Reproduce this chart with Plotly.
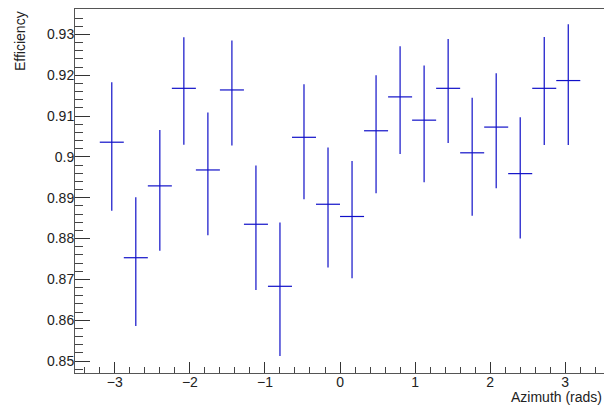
import plotly.graph_objects as go

# Data
azimuth = [-3.04, -2.72, -2.40, -2.08, -1.76, -1.44, -1.12, -0.80, -0.48, -0.16,
           0.16, 0.48, 0.80, 1.12, 1.44, 1.76, 2.08, 2.40, 2.72, 3.04]
half_width = [0.16] * 20
efficiency = [0.9036, 0.8753, 0.8929, 0.9168, 0.8968, 0.9164, 0.8835, 0.8683, 0.9048, 0.8884,
              0.8854, 0.9064, 0.9147, 0.9090, 0.9168, 0.9010, 0.9073, 0.8959, 0.9168, 0.9187]
upper_edge = [0.9183, 0.8901, 0.9066, 0.9293, 0.9109, 0.9285, 0.8979, 0.8839, 0.9178, 0.9023,
              0.8990, 0.9200, 0.9271, 0.9224, 0.9289, 0.9145, 0.9205, 0.9097, 0.9294, 0.9325]
lower_edge = [0.8868, 0.8586, 0.8770, 0.9030, 0.8808, 0.9028, 0.8674, 0.8512, 0.8896, 0.8729,
              0.8703, 0.8911, 0.9007, 0.8938, 0.9034, 0.8856, 0.8923, 0.8800, 0.9029, 0.9029]

err_plus = [u - e for u, e in zip(upper_edge, efficiency)]
err_minus = [e - l for e, l in zip(efficiency, lower_edge)]

blue = "#1010c8"
font_family = "Liberation Sans, Arial, Helvetica, sans-serif"

fig = go.Figure()
fig.add_trace(go.Scatter(
    x=azimuth, y=efficiency, mode="markers",
    marker=dict(size=1, opacity=0, color=blue),
    error_y=dict(type="data", symmetric=False, array=err_plus, arrayminus=err_minus,
                 color=blue, thickness=1.2, width=0),
    error_x=dict(type="data", array=half_width, color=blue, thickness=1.2, width=0),
    showlegend=False, hoverinfo="skip",
))

fig.update_layout(
    width=604, height=406,
    margin=dict(l=75, r=0, t=9, b=33),
    paper_bgcolor="white", plot_bgcolor="white",
    font=dict(family=font_family, size=14, color="#222222"),
    xaxis=dict(
        range=[-3.530, 3.516], showgrid=False, zeroline=False,
        showline=True, linecolor="#555555", linewidth=1, mirror=True,
        ticks="inside", ticklen=11, tickcolor="#333333", tickwidth=1,
        tick0=0, dtick=1, ticklabelstandoff=-4,
        minor=dict(ticks="inside", ticklen=6, dtick=0.2, tick0=0,
                   tickcolor="#444444", showgrid=False),
        tickfont=dict(size=14, family=font_family, color="#222222"),
    ),
    yaxis=dict(
        range=[0.84706, 0.93623], showgrid=False, zeroline=False,
        showline=True, linecolor="#555555", linewidth=1, mirror=False,
        ticks="inside", ticklen=15, tickcolor="#333333", tickwidth=1,
        tick0=0.85, dtick=0.01, tickformat="~g", ticklabelstandoff=-3,
        minor=dict(ticks="inside", ticklen=8, dtick=0.002, tick0=0.85,
                   tickcolor="#444444", showgrid=False),
        tickfont=dict(size=14, family=font_family, color="#222222"),
    ),
    annotations=[
        dict(text="Azimuth (rads)", xref="paper", yref="paper",
             x=1.0, y=-0.067, xanchor="right", yanchor="middle",
             showarrow=False, font=dict(size=14, family=font_family, color="#222222")),
        dict(text="Efficiency", xref="paper", yref="paper",
             x=(20 - 75) / 529, y=1.0, xanchor="center", yanchor="top",
             textangle=-90, showarrow=False,
             font=dict(size=14, family=font_family, color="#222222")),
    ],
)

fig.write_html("out.html")
